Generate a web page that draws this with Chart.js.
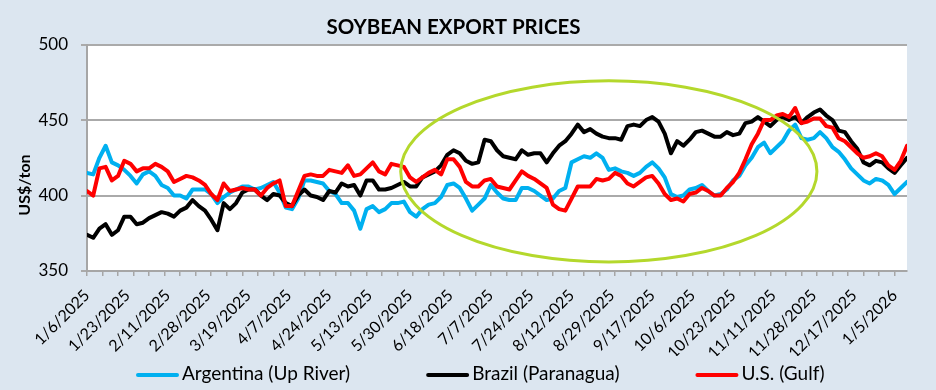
<!DOCTYPE html>
<html>
<head>
<meta charset="utf-8">
<script src="https://cdn.jsdelivr.net/npm/chart.js@4.4.1/dist/chart.umd.min.js"></script>
<style>
  html, body { margin: 0; padding: 0; background: #dce6f0; }
</style>
</head>
<body>
<canvas id="soyChart" width="936" height="390"></canvas>
<script>
const SAMPLE_STEP = 2;
// a date label every 13 trading days
const LABEL_STEP = 13;

const dateLabels = [
    '1/6/2025', '1/23/2025', '2/11/2025', '2/28/2025', '3/19/2025', '4/7/2025', '4/24/2025',
    '5/13/2025', '5/30/2025', '6/18/2025', '7/7/2025', '7/24/2025', '8/12/2025', '8/29/2025',
    '9/17/2025', '10/6/2025', '10/23/2025', '11/11/2025', '11/28/2025', '12/17/2025', '1/5/2026'
];

const argentina = [
    415, 414, 425, 433, 422, 420, 417, 413, 408, 414, 416, 413, 407, 405, 400, 400, 398, 404, 404, 404,
    401, 395, 399, 402, 404, 406, 406, 404, 405, 407, 409, 402, 392, 391, 398,
    410, 410, 409, 408, 403, 401, 395, 395, 390, 378, 391, 393, 389, 391, 395, 395, 396, 389, 386, 391,
    394, 395, 399, 407, 408, 405, 398, 390, 394, 398, 407, 402, 398, 397,
    397, 405, 405, 403, 400, 397, 398, 403, 405, 422, 424, 426, 425, 428, 425, 417, 418, 416, 415, 413,
    415, 419, 422, 418, 412, 401, 399, 400, 404, 405, 407,
    403, 400, 401, 404, 410, 413, 420, 425, 432, 435, 428, 432, 436, 443, 447, 438, 437, 438, 442, 438,
    432, 429, 424, 418, 414, 410, 408, 411, 410, 407, 401, 405, 409
];

const brazil = [
    374, 372, 378, 381, 374, 377, 386, 386, 381, 382, 385, 387, 389, 388, 386, 390, 392, 397, 393, 390,
    384, 377, 395, 391, 395, 402, 404, 404, 400, 397, 401, 400, 395, 393, 400,
    404, 400, 399, 397, 403, 402, 408, 406, 407, 400, 410, 410, 404, 404, 405, 407, 409, 406, 406, 412,
    414, 416, 420, 427, 430, 428, 423, 421, 422, 437, 436, 430, 426, 425,
    424, 430, 427, 428, 428, 422, 428, 433, 436, 441, 447, 442, 444, 441, 439, 438, 438, 437, 446, 447,
    446, 450, 452, 449, 441, 428, 436, 433, 437, 442, 443,
    441, 439, 439, 442, 440, 441, 448, 449, 452, 449, 446, 450, 452, 450, 452, 448, 452, 455, 457, 453,
    450, 443, 442, 436, 431, 422, 420, 423, 422, 418, 415, 420, 425
];

const usGulf = [
    403, 400, 418, 419, 410, 413, 423, 421, 416, 418, 418, 421, 419, 416, 409, 411, 413, 412, 410, 407,
    401, 397, 408, 403, 404, 405, 404, 404, 400, 405, 408, 410, 393, 393, 403,
    413, 414, 413, 413, 417, 416, 415, 420, 413, 414, 418, 422, 416, 414, 421, 420, 419, 412, 409, 412,
    415, 417, 414, 424, 424, 419, 409, 406, 406, 410, 411, 406, 405, 404,
    410, 416, 413, 411, 408, 405, 394, 391, 390, 398, 406, 406, 406, 411, 410, 411, 415, 413, 408, 406,
    409, 412, 413, 408, 401, 397, 398, 396, 401, 402, 405,
    403, 400, 400, 405, 409, 415, 424, 434, 441, 450, 450, 453, 454, 452, 458, 448, 449, 451, 451, 446,
    445, 438, 436, 432, 428, 425, 426, 428, 426, 420, 417, 423, 433
];

// the green ring drawn round the Jun-Nov stretch, in trading days / US$
const highlight = { centerDay: 168, centerPrice: 416, halfDays: 67, halfPrice: 60 };

const FONT = "Lato, 'Open Sans', sans-serif";
const toPoints = values => values.map((v, i) => ({ x: i * SAMPLE_STEP, y: v }));
const lastDay = (argentina.length - 1) * SAMPLE_STEP;

const backdrop = {
    id: 'backdrop',
    beforeDraw(chart) {
        const { ctx, chartArea: a } = chart;
        ctx.save();
        ctx.fillStyle = '#dce6f0';
        ctx.fillRect(0, 0, chart.width, chart.height);
        ctx.fillStyle = '#ffffff';
        ctx.fillRect(a.left, a.top, a.right - a.left, a.bottom - a.top);
        ctx.restore();
    }
};

const ring = {
    id: 'ring',
    afterDatasetsDraw(chart) {
        const { ctx, scales: { x, y } } = chart;
        const cx = x.getPixelForValue(highlight.centerDay);
        const cy = y.getPixelForValue(highlight.centerPrice);
        const rx = x.getPixelForValue(highlight.centerDay + highlight.halfDays) - cx;
        const ry = cy - y.getPixelForValue(highlight.centerPrice + highlight.halfPrice);
        ctx.save();
        ctx.strokeStyle = '#b4d82c';
        ctx.lineWidth = 3;
        ctx.beginPath();
        ctx.ellipse(cx, cy, rx, ry, 0, 0, Math.PI * 2);
        ctx.stroke();
        ctx.restore();
    }
};

// excel-style legend row under the date labels
const bottomLegend = {
    id: 'bottomLegend',
    afterDraw(chart) {
        const { ctx } = chart;
        const sets = chart.data.datasets;
        const swatch = 43, gap = 3, spacing = 76;
        ctx.save();
        ctx.font = '19px ' + FONT;
        let x = 136;
        const y = 374;
        sets.forEach(d => {
            ctx.strokeStyle = d.borderColor;
            ctx.lineWidth = 4;
            ctx.lineCap = 'round';
            ctx.beginPath();
            ctx.moveTo(x + 2, y + 1);
            ctx.lineTo(x + swatch - 2, y + 1);
            ctx.stroke();
            ctx.fillStyle = '#000';
            ctx.textBaseline = 'middle';
            ctx.fillText(d.label, x + swatch + gap, y);
            x += swatch + gap + ctx.measureText(d.label).width + spacing;
        });
        ctx.restore();
    }
};

Chart.defaults.font.family = FONT;
Chart.defaults.color = '#000';

const lineStyle = {
    borderWidth: 4,
    pointRadius: 0,
    tension: 0,
    fill: false,
    borderJoinStyle: 'round',
    borderCapStyle: 'round'
};

new Chart(document.getElementById('soyChart').getContext('2d'), {
    type: 'line',
    data: {
        datasets: [
            { ...lineStyle, label: 'Argentina (Up River)', data: toPoints(argentina), borderColor: '#00b0f0', order: 3 },
            { ...lineStyle, label: 'Brazil (Paranagua)', data: toPoints(brazil), borderColor: '#000000', order: 2 },
            { ...lineStyle, label: 'U.S. (Gulf)', data: toPoints(usGulf), borderColor: '#ff0000', order: 1 }
        ]
    },
    options: {
        responsive: false,
        animation: false,
        devicePixelRatio: 1,
        layout: { padding: { top: 3, right: 29, bottom: 34, left: 0 } },
        plugins: {
            title: {
                display: true,
                text: 'SOYBEAN EXPORT PRICES',
                color: '#000',
                font: { size: 20.5, weight: 'bold' },
                padding: { top: 12, bottom: 5 }
            },
            legend: { display: false },
            tooltip: { enabled: false }
        },
        scales: {
            x: {
                type: 'linear',
                min: 0,
                max: lastDay,
                afterBuildTicks: scale => {
                    const ticks = [];
                    for (let v = 0; v <= scale.max; v++) {
                        if (v % 5 === 0 || v % LABEL_STEP === 0) ticks.push({ value: v });
                    }
                    scale.ticks = ticks;
                },
                afterFit: scale => { scale.height = 85; },
                ticks: {
                    autoSkip: false,
                    minRotation: 45,
                    maxRotation: 45,
                    padding: 10,
                    font: { size: 16 },
                    callback: v => v % LABEL_STEP === 0 ? dateLabels[v / LABEL_STEP] : ''
                },
                grid: {
                    drawOnChartArea: false,
                    tickLength: 5,
                    lineWidth: 1.5,
                    tickColor: c => c.tick && c.tick.value % 5 === 0 ? '#a6a6a6' : 'rgba(0,0,0,0)'
                },
                border: { color: '#a6a6a6', width: 2 }
            },
            y: {
                min: 350,
                max: 500,
                afterFit: scale => { scale.width = 87; },
                ticks: { stepSize: 50, padding: 13, font: { size: 17 } },
                grid: { color: '#aaaaaa', lineWidth: 2, tickLength: 6 },
                border: { color: '#a6a6a6', width: 2 },
                title: {
                    display: true,
                    // trailing gap nudges the title below the axis middle, as in the source
                    text: 'US$/ton' + '\u00a0'.repeat(14),
                    color: '#000',
                    font: { size: 16, weight: 'bold' },
                    padding: { top: 15, bottom: 0 }
                }
            }
        }
    },
    plugins: [backdrop, ring, bottomLegend]
});
</script>
</body>
</html>
